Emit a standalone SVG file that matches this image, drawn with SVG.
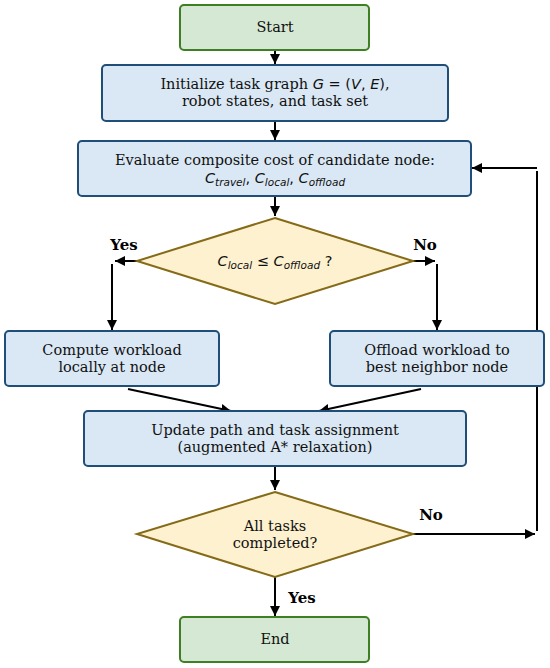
<svg xmlns="http://www.w3.org/2000/svg" width="550" height="668" viewBox="0 0 550 668">
<defs>
<marker id="ah" viewBox="0 0 10 10" refX="10" refY="5" markerWidth="10" markerHeight="10" markerUnits="userSpaceOnUse" orient="auto">
<path d="M0,0 L10,5 L0,10 z" fill="#000"/>
</marker>
<style>
.term{fill:#d5e8d4;stroke:#3d7f22;stroke-width:2}
.proc{fill:#dae8f5;stroke:#1f4e79;stroke-width:2}
.dec{fill:#fdf1d0;stroke:#856a17;stroke-width:2}
.t{font-family:"DejaVu Serif",serif;font-size:14.5px;fill:#111;text-anchor:middle}
.m{font-family:"DejaVu Sans",sans-serif;font-size:14.5px;fill:#111;text-anchor:middle}
.i{font-style:italic}
.sub{font-size:10.5px;font-style:italic}
.lbl{font-family:"DejaVu Serif",serif;font-size:15px;font-weight:bold;fill:#000}
.c{fill:none;stroke:#000;stroke-width:2}
</style>
</defs>
<g id="connectors">
<line class="c" x1="275" y1="51" x2="275" y2="64" marker-end="url(#ah)"/>
<line class="c" x1="275" y1="121" x2="275" y2="140" marker-end="url(#ah)"/>
<line class="c" x1="275" y1="197" x2="275" y2="216" marker-end="url(#ah)"/>
<line class="c" x1="137" y1="261" x2="115" y2="261" marker-end="url(#ah)"/>
<line class="c" x1="112" y1="264" x2="112" y2="330" marker-end="url(#ah)"/>
<line class="c" x1="413" y1="261" x2="435" y2="261" marker-end="url(#ah)"/>
<line class="c" x1="437" y1="264" x2="437" y2="330" marker-end="url(#ah)"/>
<line class="c" x1="128" y1="389" x2="231" y2="411" marker-end="url(#ah)"/>
<line class="c" x1="421" y1="389" x2="319" y2="411" marker-end="url(#ah)"/>
<line class="c" x1="275" y1="467" x2="275" y2="490" marker-end="url(#ah)"/>
<line class="c" x1="413" y1="534" x2="535" y2="534" marker-end="url(#ah)"/>
<line class="c" x1="537" y1="531" x2="537" y2="171"/>
<line class="c" x1="537" y1="168" x2="472" y2="168" marker-end="url(#ah)"/>
<line class="c" x1="275" y1="577" x2="275" y2="616" marker-end="url(#ah)"/>
<text class="lbl" x="124" y="250" text-anchor="middle">Yes</text>
<text class="lbl" x="425" y="250" text-anchor="middle">No</text>
<text class="lbl" x="431" y="520" text-anchor="middle">No</text>
<text class="lbl" x="302" y="603" text-anchor="middle">Yes</text>
</g>
<g id="start">
<rect class="term" x="180" y="5" width="189" height="45" rx="4"/>
<text class="t" x="275" y="32">Start</text>
</g>
<g id="init">
<rect class="proc" x="102" y="65" width="346" height="56" rx="4"/>
<text class="t" x="275" y="89">Initialize task graph <tspan class="m"><tspan class="i">G</tspan> = (<tspan class="i">V</tspan>, <tspan class="i">E</tspan>)</tspan>,</text>
<text class="t" x="275" y="106">robot states, and task set</text>
</g>
<g id="evaluate">
<rect class="proc" x="78" y="141" width="393" height="55" rx="4"/>
<text class="t" x="275" y="165">Evaluate composite cost of candidate node:</text>
<text class="m" x="275" y="183"><tspan class="i">C</tspan><tspan class="sub" dy="3">travel</tspan><tspan dy="-3">, </tspan><tspan class="i">C</tspan><tspan class="sub" dy="3">local</tspan><tspan dy="-3">, </tspan><tspan class="i">C</tspan><tspan class="sub" dy="3">offload</tspan></text>
</g>
<g id="decision1">
<polygon class="dec" points="275,218 413,261 275,304 137,261"/>
<text class="m" x="275" y="266"><tspan class="i">C</tspan><tspan class="sub" dy="3">local</tspan><tspan dy="-3"> ≤ </tspan><tspan class="i">C</tspan><tspan class="sub" dy="3">offload</tspan><tspan dy="-3"> ?</tspan></text>
</g>
<g id="local">
<rect class="proc" x="5" y="331" width="214" height="55" rx="4"/>
<text class="t" x="112" y="355">Compute workload</text>
<text class="t" x="112" y="372">locally at node</text>
</g>
<g id="offload">
<rect class="proc" x="330" y="331" width="214" height="55" rx="4"/>
<text class="t" x="437" y="355">Offload workload to</text>
<text class="t" x="437" y="372">best neighbor node</text>
</g>
<g id="update">
<rect class="proc" x="84" y="411" width="382" height="55" rx="4"/>
<text class="t" x="275" y="435">Update path and task assignment</text>
<text class="t" x="275" y="452">(augmented A* relaxation)</text>
</g>
<g id="decision2">
<polygon class="dec" points="275,492 413,534 275,577 137,534"/>
<text class="t" x="275" y="531">All tasks</text>
<text class="t" x="275" y="548">completed?</text>
</g>
<g id="end">
<rect class="term" x="180" y="617" width="189" height="45" rx="4"/>
<text class="t" x="275" y="644">End</text>
</g>
</svg>
